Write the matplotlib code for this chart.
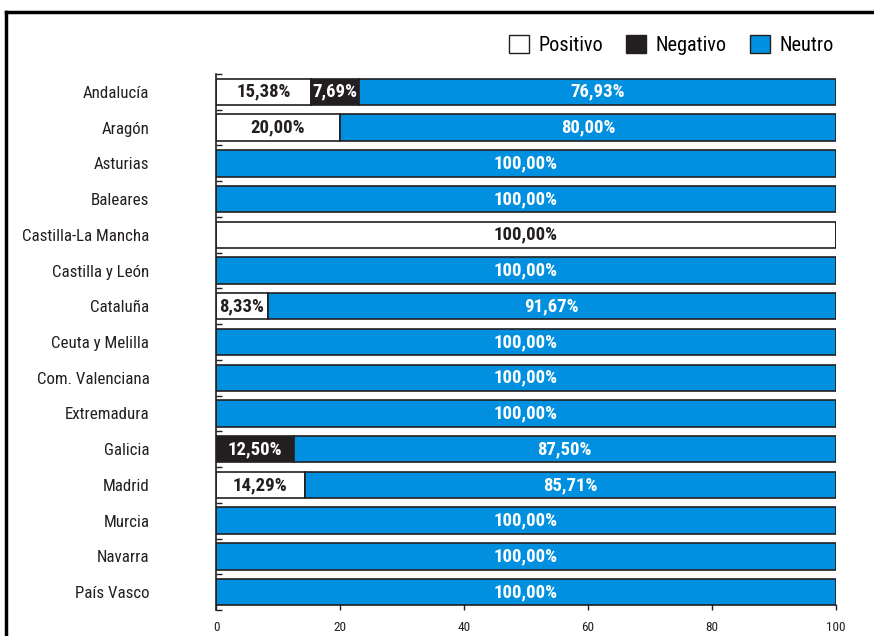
import matplotlib
matplotlib.use('Agg')
import matplotlib.pyplot as plt
from matplotlib.patches import Patch
from matplotlib.lines import Line2D
import numpy as np

# --- Datos ---
regiones = ['Andalucía', 'Aragón', 'Asturias', 'Baleares', 'Castilla-La Mancha',
            'Castilla y León', 'Cataluña', 'Ceuta y Melilla', 'Com. Valenciana',
            'Extremadura', 'Galicia', 'Madrid', 'Murcia', 'Navarra', 'País Vasco']
positivo = [15.38, 20.00, 0, 0, 100.00, 0, 8.33, 0, 0, 0, 0, 14.29, 0, 0, 0]
negativo = [7.69, 0, 0, 0, 0, 0, 0, 0, 0, 0, 12.50, 0, 0, 0, 0]
neutro = [76.93, 80.00, 100.00, 100.00, 0, 100.00, 91.67, 100.00, 100.00,
          100.00, 87.50, 85.71, 100.00, 100.00, 100.00]

# --- Estilo ---
AZUL = '#0090DF'
NEGRO = '#231F20'
plt.rcParams['font.family'] = ['Roboto Condensed', 'Roboto', 'DejaVu Sans']

fig = plt.figure(figsize=(8.74, 6.36), dpi=100)
ax = fig.add_axes([216 / 874, 1 - 610 / 636, 620 / 874, 536 / 636])

y = np.arange(len(regiones))
pos = np.array(positivo)
neg = np.array(negativo)
neu = np.array(neutro)

alto = 0.74
kw = dict(height=alto, edgecolor=NEGRO, linewidth=1.2)
ax.barh(y, pos, color='white', **kw)
ax.barh(y, neg, left=pos, color=NEGRO, **kw)
ax.barh(y, neu, left=pos + neg, color=AZUL, **kw)

def etiqueta(valores, inicio, color):
    for i, (v, s) in enumerate(zip(valores, inicio)):
        if v > 0:
            txt = f"{v:.2f}".replace('.', ',') + '%'
            ax.text(s + v / 2, i, txt, ha='center', va='center', color=color,
                    fontsize=13.5, fontweight='bold')

etiqueta(pos, np.zeros(len(pos)), NEGRO)
etiqueta(neg, pos, 'white')
etiqueta(neu, pos + neg, 'white')

ax.set_xlim(0, 100)
ax.set_ylim(len(regiones) - 0.5, -0.5)
ax.set_yticks(y)
ax.set_yticklabels(regiones, fontsize=12.2, color=NEGRO)
ax.set_yticks(np.arange(-0.5, len(regiones)), minor=True)
ax.tick_params(axis='y', which='major', length=0, pad=48)
ax.tick_params(axis='y', which='minor', direction='in', length=4, width=1, color=NEGRO)
ax.set_xticks([0, 20, 40, 60, 80, 100])
ax.tick_params(axis='x', direction='in', length=4, width=1, color=NEGRO,
               labelsize=9.5, pad=8, labelcolor=NEGRO)
for s in ['top', 'right', 'bottom']:
    ax.spines[s].set_visible(False)
ax.spines['left'].set_color(NEGRO)
ax.spines['left'].set_linewidth(1.2)

# Leyenda
handles = [Patch(facecolor='white', edgecolor=NEGRO, label='Positivo'),
           Patch(facecolor=NEGRO, edgecolor=NEGRO, label='Negativo'),
           Patch(facecolor=AZUL, edgecolor=NEGRO, label='Neutro')]
fig.legend(handles=handles, ncol=3, frameon=False, fontsize=14.6,
           loc='center right', bbox_to_anchor=(852 / 874, 1 - 45 / 636),
           handlelength=1.0, handleheight=1.0, handletextpad=0.45, columnspacing=1.15)

# Marco exterior
fig.add_artist(Line2D([6 / 874, 6 / 874], [0, 1 - 12 / 636], color='black', lw=2.5,
                      transform=fig.transFigure))
fig.add_artist(Line2D([6 / 874, 1], [1 - 12 / 636, 1 - 12 / 636], color='black', lw=2.5,
                      transform=fig.transFigure))

fig.savefig('out.png', dpi=100)
